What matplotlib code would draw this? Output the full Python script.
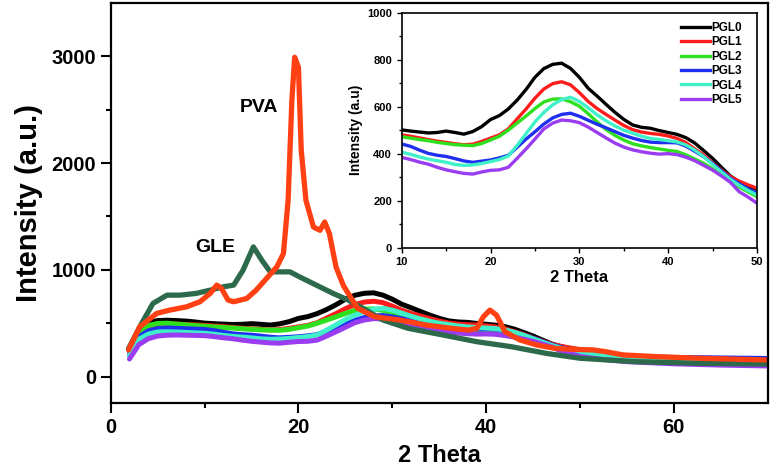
import numpy as np
import matplotlib
matplotlib.use("Agg")
import matplotlib.pyplot as plt

plt.rcParams["font.family"] = ["Liberation Sans", "DejaVu Sans"]
plt.rcParams["font.weight"] = "bold"

# 2 Theta grid shared by the PGL samples
theta_low = [2, 3, 4, 5, 6, 7, 8, 9]
theta_mid = list(range(10, 51))
theta_high = [52, 55, 60, 65, 70]
pgl_theta = theta_low + theta_mid + theta_high

pgl0 = [250, 440, 505, 525, 528, 525, 520, 512,
        501, 496, 492, 488, 490, 496, 490, 483, 494, 515, 545, 562, 590, 628, 673, 725,
        762, 780, 785, 763, 725, 678, 645, 610, 576, 546, 522, 512, 508, 498, 490, 482,
        468, 445, 413, 380, 342, 305, 280, 262, 248,
        215, 185, 165, 150, 140]
pgl1 = [235, 410, 470, 492, 495, 492, 488, 484,
        480, 474, 467, 460, 453, 448, 442, 438, 440, 452, 466, 480, 505, 548, 590, 636,
        675, 698, 706, 693, 660, 622, 592, 567, 543, 520, 502, 492, 486, 482, 475, 465,
        447, 420, 394, 360, 330, 302, 283, 267, 253,
        220, 190, 170, 158, 150]
pgl2 = [240, 420, 478, 498, 500, 492, 485, 478,
        472, 466, 460, 455, 448, 443, 438, 436, 434, 443, 458, 474, 500, 530, 560, 592,
        620, 632, 633, 621, 602, 570, 535, 503, 478, 458, 442, 433, 426, 420, 414, 409,
        395, 377, 359, 335, 310, 281, 258, 237, 217,
        195, 170, 150, 140, 132]
pgl3 = [205, 370, 428, 450, 455, 452, 448, 445,
        441, 431, 415, 401, 393, 388, 379, 369, 363, 368, 373, 382, 393, 427, 462, 493,
        526, 552, 567, 572, 559, 542, 525, 510, 494, 478, 466, 456, 449, 447, 447, 446,
        432, 410, 387, 358, 327, 295, 272, 250, 231,
        210, 190, 180, 175, 170]
pgl4 = [195, 350, 398, 418, 420, 418, 414, 410,
        406, 397, 386, 377, 370, 363, 354, 350, 352, 358, 366, 375, 390, 435, 485, 535,
        575, 608, 630, 640, 622, 595, 565, 540, 518, 500, 487, 474, 465, 460, 455, 450,
        437, 415, 387, 354, 322, 291, 265, 243, 224,
        200, 175, 160, 150, 140]
pgl5 = [165, 300, 355, 380, 388, 390, 388, 386,
        384, 375, 364, 355, 342, 331, 323, 316, 313, 322, 329, 331, 342, 380, 420, 462,
        505, 530, 543, 540, 532, 513, 490, 467, 445, 428, 416, 408, 402, 398, 400, 396,
        385, 370, 350, 330, 305, 278, 238, 215, 189,
        165, 140, 120, 108, 100]

pgl_labels = ["PGL0", "PGL1", "PGL2", "PGL3", "PGL4", "PGL5"]
pgl_colors = ["#000000", "#ff1c1c", "#2ee01e", "#1f2ff0", "#3ff0c8", "#9a3cf0"]

pva_theta = [1.9, 3.1, 4.9, 6.3, 8.1, 9.5, 10.6, 11.3, 11.8, 12.5, 13.1, 14.5, 15.5,
             16.6, 17.7, 18.4, 18.9, 19.3, 19.6, 20.0, 20.3, 20.8, 21.6, 22.3, 22.8,
             23.3, 24.0, 24.8, 26.3, 28.1, 30.8, 33.6, 36.3, 38.1, 39.0, 39.7, 40.4,
             41.1, 42.0, 43.6, 45.4, 47.3, 49.1, 51.4, 52.7, 54.6, 58.2, 62.8, 69.8]
pva = [250, 467, 592, 623, 654, 701, 779, 857, 826, 717, 701, 732, 810,
       919, 1028, 1152, 1650, 2585, 2990, 2897, 2118, 1650, 1401, 1370, 1448,
       1339, 1028, 850, 640, 561, 530, 483, 452, 436, 452, 561, 623,
       576, 421, 343, 296, 265, 256, 250, 234, 203, 187, 172, 156]

gle_theta = [1.9, 3.1, 4.5, 6.0, 7.4, 9.1, 10.6, 12.0, 13.1, 14.1, 15.2, 16.1, 17.0,
             18.4, 19.1, 20.1, 21.9, 23.7, 25.3, 27.2, 29.0, 31.7, 35.4, 39.0, 42.7,
             46.4, 50.0, 55.9, 62.8, 69.8]
gle = [262, 467, 685, 763, 763, 779, 810, 841, 857, 997, 1215, 1090, 981,
       981, 981, 935, 857, 779, 717, 623, 530, 452, 390, 327, 280,
       218, 172, 140, 125, 118]

pgl_series = [pgl0, pgl1, pgl2, pgl3, pgl4, pgl5]

fig = plt.figure(figsize=(7.74, 4.69), dpi=100)
ax = fig.add_axes([0.143, 0.140, 0.849, 0.854])

for vals, c in zip(pgl_series, pgl_colors):
    ax.plot(pgl_theta, vals, color=c, lw=3.6, solid_capstyle="round")
ax.plot(gle_theta, gle, color="#2d6a4c", lw=3.8, solid_capstyle="round")
ax.plot(pva_theta, pva, color="#ff4012", lw=3.8, solid_capstyle="round")

ax.set_xlim(0, 70)
ax.set_ylim(-250, 3500)
ax.set_xticks([0, 20, 40, 60])
ax.set_xticks([10, 30, 50], minor=True)
ax.set_yticks([0, 1000, 2000, 3000])
ax.set_yticks([500, 1500, 2500], minor=True)
ax.tick_params(which="major", direction="out", length=7, width=1.5, labelsize=14.5)
ax.tick_params(which="minor", direction="out", length=3.5, width=1.5)
for s in ax.spines.values():
    s.set_linewidth(1.6)
for lab in ax.get_xticklabels() + ax.get_yticklabels():
    lab.set_fontweight("bold")
ax.set_xlabel("2 Theta", fontsize=17, fontweight="bold", labelpad=5)
ax.set_ylabel("Intensity (a.u.)", fontsize=21, fontweight="bold", labelpad=6)

ax.text(15.8, 2520, "PVA", fontsize=14, fontweight="bold", ha="center", va="center")
ax.text(11.1, 1212, "GLE", fontsize=14, fontweight="bold", ha="center", va="center")

# inset with the PGL series only
ins = fig.add_axes([0.519, 0.472, 0.459, 0.501])
for vals, c, lab in zip(pgl_series, pgl_colors, pgl_labels):
    ins.plot(pgl_theta, vals, color=c, lw=2.4, label=lab)
ins.set_xlim(10, 50)
ins.set_ylim(0, 1000)
ins.set_xticks([10, 20, 30, 40, 50])
ins.set_xticks([15, 25, 35, 45], minor=True)
ins.set_yticks([0, 200, 400, 600, 800, 1000])
ins.set_yticks([100, 300, 500, 700, 900], minor=True)
ins.tick_params(which="major", direction="out", length=3.5, width=1, labelsize=8)
ins.tick_params(which="minor", direction="out", length=2, width=1)
for s in ins.spines.values():
    s.set_linewidth(1.2)
for lab in ins.get_xticklabels() + ins.get_yticklabels():
    lab.set_fontweight("bold")
ins.set_xlabel("2 Theta", fontsize=12, fontweight="bold", labelpad=2)
ins.set_ylabel("Intensity (a.u)", fontsize=10, fontweight="bold", labelpad=3)
ins.legend(loc="upper left", bbox_to_anchor=(0.785, 0.96), frameon=False,
           prop={"size": 8.5, "weight": "bold"}, handlelength=2.5,
           handletextpad=0.1, labelspacing=0.2, borderpad=0, borderaxespad=0)

fig.savefig("out.png", dpi=100)
